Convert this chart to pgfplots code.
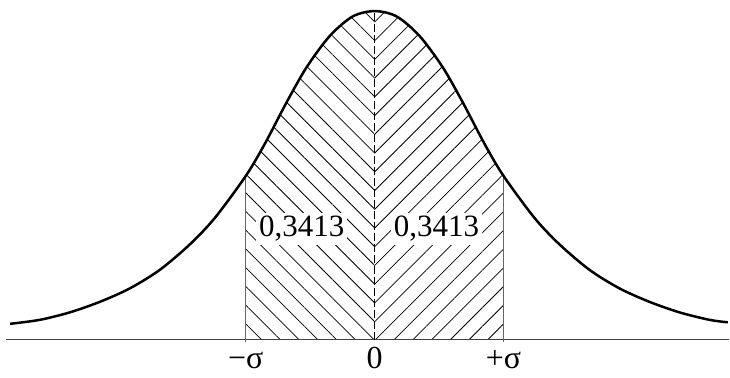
\documentclass[border=0pt]{standalone}
\usepackage{fontspec}
\setmainfont{Liberation Serif}
\usepackage{pgfplots}
\usepackage{pgfplotstable}
\pgfplotsset{compat=1.18}
\usetikzlibrary{patterns.meta}

\pgfplotstableread{
x y
-2.829 16
-2.597 20
-2.364 27.5
-2.132 38
-1.899 51.5
-1.667 70
-1.434 95.5
-1.240 122
-1.000 164
-0.853 196
-0.682 238
-0.527 273
-0.349 304
-0.171 323.6
0 329
0.171 323.6
0.349 304
0.527 273
0.682 238
0.853 196
1.000 164
1.240 122
1.434 95.5
1.667 70
1.899 51.5
2.132 38
2.364 27.5
2.597 20
2.740 17.5
}\curve

\pgfplotstableread{
x y
-1.000 164
-0.853 196
-0.682 238
-0.527 273
-0.349 304
-0.171 323.6
0 329
}\leftpart

\pgfplotstableread{
x y
0 329
0.171 323.6
0.349 304
0.527 273
0.682 238
0.853 196
1.000 164
}\rightpart

\begin{document}
\begin{tikzpicture}
\begin{axis}[
  scale only axis,
  width=730pt, height=378pt,
  xmin=-2.907, xmax=2.752,
  ymin=-38, ymax=340,
  clip=false,
  axis line style={draw=none},
  ytick=\empty,
  xtick={-1,0,1},
  xticklabels={{−σ},{0},{+σ}},
  major tick length=0pt,
  xticklabel style={anchor=base, inner sep=0pt, yshift=9pt, font=\fontsize{32}{37}\selectfont},
]
\addplot[draw=none, pattern={Lines[angle=-45, distance=13.26pt, line width=0.8pt]}, smooth] table[x=x,y=y] {\leftpart} \closedcycle;
\addplot[draw=none, pattern={Lines[angle=45, distance=13.26pt, line width=0.8pt]}, smooth] table[x=x,y=y] {\rightpart} \closedcycle;

\node[fill=white, inner sep=3pt, anchor=base, font=\fontsize{31}{36}\selectfont] at (axis cs:-0.566,103) {0,3413};
\node[fill=white, inner sep=3pt, anchor=base, font=\fontsize{31}{36}\selectfont] at (axis cs:0.48,103) {0,3413};

\addplot[black!75, line width=1.3pt] coordinates {(-2.86,0) (2.752,0)};
\addplot[black!60, line width=1.2pt] coordinates {(-1,-2) (-1,164)};
\addplot[black!60, line width=1.2pt] coordinates {(1,-2) (1,164)};
\addplot[black, line width=1pt, dash pattern=on 8pt off 3pt] coordinates {(0,0) (0,329)};

\addplot[black, line width=2.5pt, smooth] table[x=x,y=y] {\curve};
\end{axis}
\end{tikzpicture}
\end{document}
